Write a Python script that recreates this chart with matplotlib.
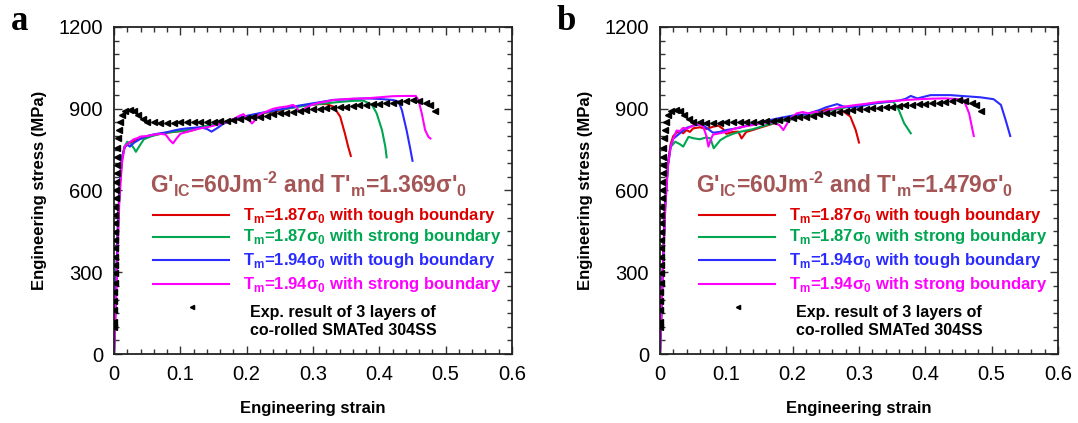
import matplotlib
matplotlib.use("Agg")
import matplotlib.pyplot as plt
from matplotlib.ticker import MultipleLocator

plt.rcParams['font.family'] = ['Liberation Sans', 'DejaVu Sans']
plt.rcParams['axes.unicode_minus'] = False

# experiment: 3 layers of co-rolled SMATed 304SS (same in both panels)
exp_strain = [0.000, 0.000, 0.000, 0.000, 0.000, 0.001, 0.001, 0.001, 0.001, 0.001,
              0.001, 0.002, 0.002, 0.002, 0.002, 0.003, 0.003, 0.003, 0.004, 0.004,
              0.005, 0.005, 0.006, 0.007, 0.009, 0.012, 0.017, 0.024, 0.030, 0.036,
              0.043, 0.050, 0.060, 0.070, 0.080, 0.090, 0.100, 0.110, 0.120, 0.130,
              0.140, 0.150, 0.160, 0.170, 0.180, 0.190, 0.200, 0.210, 0.220, 0.230,
              0.240, 0.250, 0.260, 0.270, 0.280, 0.290, 0.300, 0.310, 0.320, 0.330,
              0.340, 0.350, 0.360, 0.370, 0.380, 0.390, 0.400, 0.410, 0.420, 0.430,
              0.440, 0.450, 0.460, 0.470, 0.477, 0.484]
exp_stress = [100, 118, 161, 196, 229, 260, 296, 327, 357, 388,
              418, 449, 480, 510, 541, 571, 602, 632, 663, 694,
              724, 755, 791, 822, 852, 877, 890, 895, 890, 877,
              862, 852, 850, 849, 849, 849, 850, 850, 851, 851,
              852, 853, 854, 856, 858, 861, 865, 868, 871, 875,
              879, 883, 886, 889, 892, 895, 898, 900, 902, 904,
              906, 908, 910, 912, 914, 916, 918, 920, 922, 925,
              928, 931, 929, 922, 914, 892]

# panel a: T'm = 1.369 sigma'0
a_red_x = [0, 0.003, 0.006, 0.009, 0.012, 0.016, 0.022, 0.03, 0.04, 0.05, 0.06, 0.07,
           0.08, 0.09, 0.10, 0.11, 0.12, 0.13, 0.14, 0.15, 0.16, 0.17, 0.18, 0.19, 0.20,
           0.21, 0.22, 0.23, 0.24, 0.25, 0.26, 0.27, 0.28, 0.29, 0.30, 0.31, 0.32, 0.331,
           0.341, 0.348, 0.353, 0.357]
a_red_y = [0, 250, 480, 640, 720, 760, 772, 782, 790, 796, 804, 808,
           812, 815, 818, 816, 822, 830, 835, 840, 845, 852, 858, 862, 868,
           873, 880, 886, 889, 893, 900, 905, 910, 913, 915, 917, 917, 908,
           871, 810, 761, 727]
a_grn_x = [0, 0.003, 0.006, 0.009, 0.012, 0.016, 0.02, 0.025, 0.03, 0.033, 0.038, 0.045,
           0.055, 0.065, 0.075, 0.085, 0.10, 0.11, 0.12, 0.13, 0.14, 0.15, 0.16, 0.17,
           0.18, 0.19, 0.20, 0.22, 0.24, 0.26, 0.28, 0.30, 0.32, 0.34, 0.36, 0.376,
           0.389, 0.396, 0.404, 0.409, 0.411]
a_grn_y = [0, 240, 470, 630, 715, 762, 779, 772, 755, 742, 762, 788,
           798, 805, 810, 814, 818, 822, 826, 832, 838, 842, 848, 853,
           860, 866, 872, 882, 892, 900, 908, 915, 920, 925, 929, 930,
           914, 883, 822, 761, 722]
a_blu_x = [0, 0.003, 0.006, 0.009, 0.012, 0.016, 0.02, 0.024, 0.03, 0.04, 0.05, 0.06,
           0.07, 0.08, 0.09, 0.10, 0.11, 0.12, 0.13, 0.14, 0.147, 0.155, 0.165, 0.18,
           0.20, 0.22, 0.24, 0.26, 0.28, 0.30, 0.33, 0.36, 0.38, 0.40, 0.421, 0.429,
           0.434, 0.441, 0.446, 0.450]
a_blu_y = [0, 245, 475, 635, 718, 758, 768, 761, 775, 790, 800, 806,
           810, 814, 820, 825, 828, 830, 832, 826, 816, 828, 845, 862,
           874, 884, 893, 902, 912, 920, 932, 936, 938, 936, 932, 926,
           895, 822, 761, 709]
a_mag_x = [0, 0.004, 0.008, 0.012, 0.016, 0.02, 0.025, 0.03, 0.035, 0.04, 0.05, 0.06,
           0.07, 0.078, 0.084, 0.089, 0.094, 0.10, 0.11, 0.12, 0.13, 0.14, 0.15, 0.16,
           0.17, 0.18, 0.19, 0.195, 0.20, 0.208, 0.215, 0.22, 0.23, 0.24, 0.25, 0.26,
           0.27, 0.275, 0.28, 0.29, 0.30, 0.31, 0.33, 0.36, 0.38, 0.40, 0.42, 0.44,
           0.455, 0.459, 0.464, 0.469, 0.474, 0.477]
a_mag_y = [0, 250, 560, 700, 761, 770, 780, 788, 792, 798, 800, 805,
           808, 805, 785, 773, 790, 808, 815, 822, 828, 832, 838, 845,
           852, 862, 875, 880, 868, 846, 865, 880, 890, 900, 905, 908,
           914, 905, 889, 905, 916, 922, 932, 937, 938, 942, 946, 947,
           947, 932, 883, 822, 797, 791]

# panel b: T'm = 1.479 sigma'0
b_red_x = [0, 0.004, 0.008, 0.012, 0.016, 0.02, 0.025, 0.03, 0.035, 0.04, 0.045, 0.05,
           0.06, 0.07, 0.08, 0.088, 0.095, 0.10, 0.11, 0.118, 0.123, 0.13, 0.14, 0.15,
           0.17, 0.19, 0.21, 0.23, 0.252, 0.272, 0.287, 0.295, 0.30]
b_red_y = [0, 300, 560, 700, 770, 800, 812, 818, 810, 822, 815, 828,
           832, 826, 834, 838, 826, 808, 815, 816, 791, 815, 822, 830,
           845, 858, 868, 880, 898, 898, 871, 822, 776]
b_grn_x = [0, 0.004, 0.008, 0.012, 0.016, 0.023, 0.03, 0.035, 0.043, 0.05, 0.06, 0.07,
           0.076, 0.081, 0.091, 0.10, 0.11, 0.12, 0.14, 0.16, 0.18, 0.20, 0.22, 0.24,
           0.26, 0.28, 0.30, 0.32, 0.34, 0.352, 0.36, 0.368, 0.378]
b_grn_y = [0, 290, 550, 690, 760, 779, 770, 761, 797, 792, 788, 795,
           791, 755, 785, 798, 808, 815, 825, 840, 852, 862, 872, 885,
           895, 905, 912, 920, 924, 926, 895, 847, 810]
b_blu_x = [0, 0.004, 0.008, 0.012, 0.016, 0.02, 0.03, 0.04, 0.05, 0.06, 0.065, 0.07,
           0.08, 0.09, 0.10, 0.12, 0.14, 0.16, 0.171, 0.18, 0.20, 0.22, 0.24, 0.25,
           0.26, 0.267, 0.277, 0.29, 0.30, 0.32, 0.34, 0.36, 0.37, 0.378, 0.388, 0.408,
           0.438, 0.46, 0.483, 0.503, 0.514, 0.521, 0.528]
b_blu_y = [0, 300, 560, 700, 760, 790, 810, 830, 838, 842, 840, 830,
           812, 815, 822, 830, 845, 855, 861, 866, 875, 880, 895, 905,
           912, 917, 908, 905, 908, 918, 925, 930, 936, 947, 938, 950,
           950, 946, 942, 935, 914, 859, 800]
b_mag_x = [0, 0.004, 0.008, 0.012, 0.016, 0.02, 0.025, 0.03, 0.035, 0.04, 0.05, 0.055,
           0.06, 0.065, 0.07, 0.073, 0.077, 0.08, 0.09, 0.10, 0.11, 0.12, 0.14, 0.16,
           0.17, 0.18, 0.186, 0.195, 0.206, 0.215, 0.225, 0.235, 0.242, 0.255, 0.27,
           0.29, 0.31, 0.33, 0.35, 0.37, 0.39, 0.41, 0.43, 0.445, 0.458, 0.466, 0.473]
b_mag_y = [0, 280, 540, 690, 760, 790, 820, 818, 830, 826, 838, 846,
           842, 835, 800, 761, 790, 805, 810, 815, 825, 832, 840, 850,
           850, 840, 822, 860, 883, 888, 882, 890, 881, 895, 905,
           912, 918, 925, 928, 932, 935, 937, 938, 936, 932, 883, 800]

x_ticks = [0, 0.1, 0.2, 0.3, 0.4, 0.5, 0.6]
x_ticklabels = ['0', '0.1', '0.2', '0.3', '0.4', '0.5', '0.6']
y_ticks = [0, 300, 600, 900, 1200]

panels = [
    ('a', '1.369', [(a_red_x, a_red_y), (a_grn_x, a_grn_y), (a_blu_x, a_blu_y), (a_mag_x, a_mag_y)]),
    ('b', '1.479', [(b_red_x, b_red_y), (b_grn_x, b_grn_y), (b_blu_x, b_blu_y), (b_mag_x, b_mag_y)]),
]

colors = ['#DD0000', '#00A651', '#2B2BFF', '#FF00FF']
labels = [r'T$_\mathregular{m}$=1.87σ$_\mathregular{0}$ with tough boundary',
          r'T$_\mathregular{m}$=1.87σ$_\mathregular{0}$ with strong boundary',
          r'T$_\mathregular{m}$=1.94σ$_\mathregular{0}$ with tough boundary',
          r'T$_\mathregular{m}$=1.94σ$_\mathregular{0}$ with strong boundary']
title_color = '#A45656'

fig = plt.figure(figsize=(10.78, 4.23), dpi=100)
lefts = [114 / 1078, 660 / 1078]
for (letter, tm, curves), left in zip(panels, lefts):
    ax = fig.add_axes([left, 1 - 354 / 423, 398 / 1078, 327 / 423])
    ax.plot(exp_strain, exp_stress, linestyle='none', marker='<', markersize=4,
            color='black', zorder=3)
    for (xs, ys), c in zip(curves, colors):
        ax.plot(xs, ys, color=c, linewidth=1.5, zorder=2)

    ax.set_xlim(0, 0.6)
    ax.set_ylim(0, 1200)
    ax.set_xticks(x_ticks, x_ticklabels)
    ax.set_yticks(y_ticks)
    ax.xaxis.set_minor_locator(MultipleLocator(0.02))
    ax.yaxis.set_minor_locator(MultipleLocator(50))
    ax.tick_params(which='both', direction='in', top=True, right=True, colors='#333333')
    ax.tick_params(which='major', length=6, width=1, labelsize=14.5, pad=8, labelcolor='black')
    ax.tick_params(which='minor', length=3.5, width=1)
    for s in ax.spines.values():
        s.set_linewidth(1.3)
        s.set_color('#222222')
    ax.set_xlabel('Engineering strain', fontsize=12, fontweight='bold', labelpad=12)
    ax.set_ylabel('Engineering stress (MPa)', fontsize=12, fontweight='bold', labelpad=8)

    ax.text(0.09, 0.517,
            "G'$_\\mathregular{IC}$=60Jm$^\\mathregular{\u2010 2}$ and T'$_\\mathregular{m}$=" + tm + "σ'$_\\mathregular{0}$",
            transform=ax.transAxes, fontsize=16.5, fontweight='bold', color=title_color,
            va='center', ha='left')
    for i, (c, lab) in enumerate(zip(colors, labels)):
        yy = [0.425, 0.358, 0.287, 0.214][i]
        ax.plot([0.098, 0.288], [yy, yy], color=c, linewidth=1.5, transform=ax.transAxes)
        ax.text(0.325, yy, lab, transform=ax.transAxes, fontsize=12, fontweight='bold',
                color=c, va='center', ha='left')
    ax.plot([0.195], [0.145], marker='<', markersize=3, color='black', transform=ax.transAxes)
    ax.text(0.342, 0.126, 'Exp. result of 3 layers of', transform=ax.transAxes,
            fontsize=11.5, fontweight='bold', va='center', ha='left')
    ax.text(0.342, 0.073, 'co-rolled SMATed 304SS', transform=ax.transAxes,
            fontsize=11.5, fontweight='bold', va='center', ha='left')

    fig.text((left * 1078 - 94) / 1078, 1 - 22 / 423, letter, fontsize=25, fontweight='bold',
             family='Liberation Serif', ha='center', va='center')

fig.savefig('out.png', dpi=100)
